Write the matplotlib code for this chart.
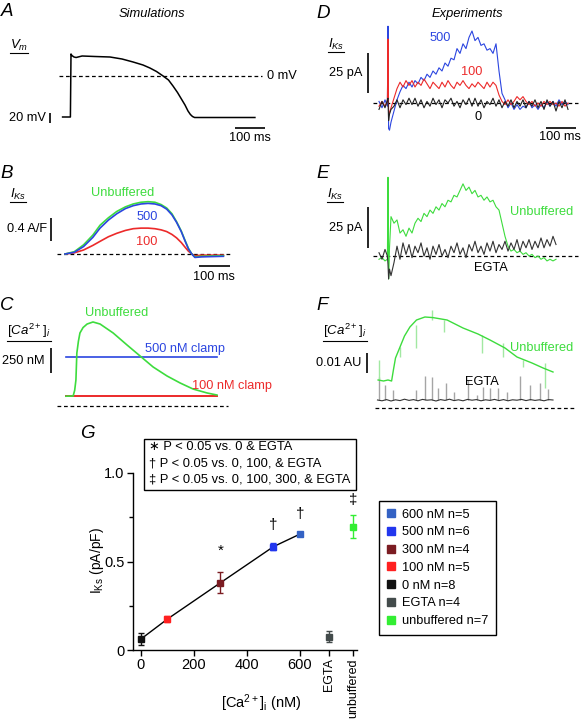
import matplotlib
matplotlib.use('Agg')
import matplotlib.pyplot as plt
from matplotlib.lines import Line2D
from matplotlib.patches import Rectangle

plt.rcParams['font.family'] = ['Liberation Sans', 'DejaVu Sans']
plt.rcParams['mathtext.fontset'] = 'custom'
plt.rcParams['mathtext.rm'] = 'Liberation Sans'
plt.rcParams['mathtext.it'] = 'Liberation Sans:italic'
plt.rcParams['mathtext.bf'] = 'Liberation Sans:bold'

# ---------------- data ----------------
# A: simulated action potential (ms, mV)
t_ap = [-28, -2, 0, 3, 10, 17, 37, 80, 130, 170, 207, 240, 263, 285, 307, 325,
        340, 355, 370, 380, 390, 398, 405, 412, 430, 613]
vm_ap = [-82, -82, 44, 41, 38, 37, 40, 39, 38, 34, 28, 22, 16, 9, 0, -8,
         -20, -33, -48, -58, -70, -77, -81, -83, -83, -83]

# B: simulated IKs (A/F)
t_b = [0, 30, 60, 90, 113, 140, 167, 195, 220, 245, 268, 290, 310, 328, 345,
       360, 375, 387, 398, 409, 419, 440, 511]
iks_unbuf = [0, 0.04, 0.16, 0.33, 0.50, 0.63, 0.74, 0.82, 0.87, 0.90, 0.91, 0.90,
             0.86, 0.80, 0.70, 0.56, 0.40, 0.24, 0.10, 0.0, -0.05, -0.04, -0.03]
iks_500 = [0, 0.03, 0.13, 0.29, 0.45, 0.59, 0.70, 0.79, 0.84, 0.87, 0.88, 0.87,
           0.84, 0.78, 0.68, 0.55, 0.39, 0.23, 0.09, 0.0, -0.06, -0.05, -0.04]
iks_100 = [0, 0.02, 0.07, 0.15, 0.22, 0.30, 0.36, 0.41, 0.44, 0.45, 0.45, 0.44,
           0.42, 0.39, 0.34, 0.28, 0.20, 0.12, 0.05, 0.0, -0.03, -0.02, -0.02]

# C: simulated [Ca2+]i (nM)
t_c = [0, 23, 28, 32, 35, 40, 45, 55, 68, 87, 110, 152, 197, 239, 281, 326,
       368, 410, 455, 487]
ca_unbuf = [100, 102, 160, 265, 540, 660, 745, 800, 836, 857, 836, 745, 622,
            510, 398, 306, 235, 173, 133, 112]
t_clamp = [0, 487]
ca_clamp500 = [500, 500]
ca_clamp100 = [100, 100]

# D: measured IKs (pA)
t_d = [-30, -20, -10, -2, 0, 2, 5] + list(range(10, 610, 10))
ik_d500 = [1, -3, 2, -2, 48, -16, -17,
           -12, -5, 2, 7, 11, 9, 13, 10, 14, 12, 16, 14, 18, 16, 20, 18, 22, 20,
           25, 23, 28, 27, 34, 31, 37, 34, 41, 45, 39, 41, 36, 37, 33, 34, 31,
           37, 20, 6, 2, -3, 0, -4, -1, -4, -2, -3, 1, -3, -1, -4, -1, -3, 1,
           -2, 1, -2, 2, -1, 1, -1]
ik_d100 = [-2, 1, -2, 1, 40, -8, -6,
           -3, 3, 9, 13, 10, 14, 11, 14, 10, 13, 11, 15, 12, 9, 13, 11, 9, 13,
           10, 14, 11, 9, 13, 11, 14, 11, 9, 12, 10, 13, 11, 9, 13, 10, 13, 11,
           5, 1, -1, 2, -1, 1, 4, 2, 4, 1, -1, 1, -2, 0, -2, 1, -1, 1,
           -1, 0, -2, 1, -2, 0]
ik_d0 = [-4, 1, -3, 2, 3, -11, -7,
         -4, -2, 2, -3, 2, -1, 3, -1, 3, -2, 2, -3, 1, -2, 3, -1, 2, -3,
         2, 0, 3, -2, 1, -3, 2, -1, 3, -2, 3, -2, 2, -3, 1, -1, 3, -2,
         2, -3, 1, -2, 2, -3, 1, -2, 2, -3, 1, -2, 2, -3, 1, -4, 2, -2,
         1, -5, 1, -3, 2, -4]

# E: measured IKs (pA)
t_e = [-30, -20, -10, -2, 0, 2, 5] + list(range(10, 570, 10))
ik_e_unbuf = [-2, -1, -3, -2, 48, -14, 5,
              24, 20, 22, 14, 16, 12, 17, 14, 20, 23, 21, 26, 24, 28, 26, 30, 28,
              32, 30, 34, 33, 37, 36, 40, 44, 40, 42, 38, 40, 36, 37, 34, 36, 33,
              34, 30, 28, 20, 12, 6, 3, 4, 2, 3, 1, 2, 0, 1, -1, 0, -2, -1, -3,
              -2, -3, -2]
ik_e_egta = [2, -2, 4, 0, -5, -14, -8,
             -12, -4, 6, -2, 8, 1, 7, -1, 6, 2, 8, 0, 5, -2, 6, 1, 7, 0,
             4, -1, 6, 2, 8, 1, 5, -1, 7, 3, 9, 2, 6, 1, 8, 3, 9, 2,
             7, 4, 9, 3, 8, 4, 10, 3, 9, 5, 10, 4, 9, 5, 11, 5, 10, 6,
             12, 7]

# F: measured [Ca2+]i (AU)
t_f = [-33, -15, 0, 12, 18, 25, 40, 55, 73, 95, 123, 150, 197, 250, 300, 340,
       390, 430, 480, 517, 550]
ca_f_unbuf = [0.014, 0.0135, 0.014, 0.0135, 0.019, 0.025, 0.0305, 0.036, 0.0405,
              0.044, 0.0455, 0.0452, 0.044, 0.040, 0.037, 0.034, 0.030, 0.0255,
              0.0225, 0.020, 0.018]
ub_spk_t = [-29, 40, 93, 146, 187, 312, 384, 451, 523]
ub_spk_lo = [0.014, 0.0257, 0.030, 0.044, 0.038, 0.0275, 0.0257, 0.0205, 0.010]
ub_spk_hi = [0.024, 0.0307, 0.0415, 0.049, 0.044, 0.0365, 0.0325, 0.024, 0.0225]
t_f_egta = [-35, -20, -5, 10, 25, 40, 55, 70, 85, 100, 115, 130, 145, 160, 175,
            190, 205, 220, 235, 250, 265, 280, 295, 310, 325, 340, 355, 370, 385,
            400, 415, 430, 445, 460, 475, 490, 505, 520, 535, 550]
ca_f_egta = [0.0040, 0.0036, 0.0042, 0.0035, 0.0041, 0.0037, 0.0044, 0.0038,
             0.0042, 0.0036, 0.0043, 0.0039, 0.0041, 0.0035, 0.0042, 0.0038,
             0.0044, 0.0037, 0.0041, 0.0036, 0.0043, 0.0039, 0.0042, 0.0036,
             0.0041, 0.0038, 0.0043, 0.0037, 0.0042, 0.0036, 0.0041, 0.0039,
             0.0043, 0.0037, 0.0042, 0.0038, 0.0041, 0.0036, 0.0042, 0.0040]
egta_spk_t = [-30, -10, 17, 93, 123, 147, 167, 193, 220, 267, 297, 317, 340, 367,
              397, 440, 473, 507, 533]
egta_spk_v = [0.0155, 0.0115, 0.009, 0.009, 0.016, 0.0155, 0.010, 0.0125, 0.008,
              0.014, 0.0065, 0.0105, 0.010, 0.010, 0.008, 0.016, 0.0115, 0.0125,
              0.0095]

# G: summary IKs vs [Ca2+]i
conc = [0, 100, 300, 500, 600]
iks_mean = [0.062, 0.175, 0.38, 0.584, 0.655]
iks_sem = [0.033, 0.015, 0.06, 0.02, 0.012]
conc_colors = ['#111111', '#ff2020', '#7b1c22', '#2236ee', '#3462c4']
egta_x, egta_mean, egta_sem = 710, 0.075, 0.03
unbuf_x, unbuf_mean, unbuf_sem = 800, 0.697, 0.064
x_ticks = [0, 200, 400, 600, 710, 800]
x_ticklabels = ['0', '200', '400', '600', 'EGTA', 'unbuffered']
leg_labels = ['600 nM n=5', '500 nM n=6', '300 nM n=4', '100 nM n=5',
              '0 nM n=8', 'EGTA n=4', 'unbuffered n=7']
leg_colors = ['#3462c4', '#2236ee', '#7b1c22', '#ff2020', '#111111',
              '#434b4b', '#33ee33']
stat_lines = ['\u2217 P < 0.05 vs. 0 & EGTA',
              '\u2020 P < 0.05 vs. 0, 100, & EGTA',
              '\u2021 P < 0.05 vs. 0, 100, 300, & EGTA']

GREEN = '#3ddc3d'
BLUE = '#2b45e0'
RED = '#ec2a2a'
LGREEN = '#a2e8a2'
GRAY = '#a5a5a5'

W, H = 582, 720
fig = plt.figure(figsize=(W / 100, H / 100), dpi=100)


def panel(box, x0, sx, y0, sy):
    # box = pixel (left, top, right, bottom); x0/y0 pixel of t=0 / value 0
    l, t, r, b = box
    ax = fig.add_axes([l / W, 1 - b / H, (r - l) / W, (b - t) / H])
    ax.set_xlim((l - x0) / sx, (r - x0) / sx)
    ax.set_ylim((y0 - b) / sy, (y0 - t) / sy)
    ax.axis('off')
    return ax


def pix(ax, px, py):
    return ax.transData.inverted().transform((px, H - py))


def vbar(ax, px, py, length):
    x, y = pix(ax, px, py)
    ax.plot([x, x], [y, y + length], color='k', lw=1.2, solid_capstyle='butt',
            clip_on=False)


def hbar(ax, px, py, length):
    x, y = pix(ax, px, py)
    ax.plot([x, x + length], [y, y], color='k', lw=1.2, solid_capstyle='butt',
            clip_on=False)


def zero(ax, pl, pr):
    xl = pix(ax, pl, 0)[0]
    xr = pix(ax, pr, 0)[0]
    ax.plot([xl, xr], [0, 0], color='k', lw=0.9, ls=(0, (3, 2.2)))


# A
axA = panel((40, 30, 300, 145), 71, 0.3, 76, 0.5)
zero(axA, 59, 262)
axA.plot(t_ap, vm_ap, color='k', lw=1.1)
vbar(axA, 50, 123, 20)
hbar(axA, 235, 128, 100)

# B
axB = panel((40, 180, 300, 285), 65, 0.31, 254, 57.5)
zero(axB, 57, 230)
axB.plot(t_b, iks_100, color=RED, lw=1.2)
axB.plot(t_b, iks_unbuf, color=GREEN, lw=1.2)
axB.plot(t_b, iks_500, color=BLUE, lw=1.2)
vbar(axB, 51, 241, 0.4)
hbar(axB, 199, 266, 100)

# C
axC = panel((40, 300, 300, 415), 66, 0.31, 406, 1 / 10.2)
zero(axC, 57, 228)
axC.plot(t_clamp, ca_clamp500, color=BLUE, lw=1.2)
axC.plot(t_clamp, ca_clamp100, color=RED, lw=1.4)
axC.plot(t_c, ca_unbuf, color=GREEN, lw=1.2)
vbar(axC, 51, 373, 250)

# D
axD = panel((320, 20, 582, 145), 388, 0.3, 103, 1.6)
zero(axD, 373, 578)
axD.plot(t_d, ik_d500, color=BLUE, lw=0.8)
axD.plot(t_d, ik_d100, color=RED, lw=0.8)
axD.plot(t_d, ik_d0, color='#222222', lw=0.8)
vbar(axD, 368, 93, 25)
hbar(axD, 546, 128, 100)

# E
axE = panel((320, 165, 582, 290), 388, 0.3, 256, 1.64)
zero(axE, 373, 578)
axE.plot(t_e, ik_e_unbuf, color=GREEN, lw=0.8)
axE.plot(t_e, ik_e_egta, color='#333333', lw=0.8)
vbar(axE, 368, 248, 25)

# F
axF = panel((320, 300, 582, 415), 388, 0.3, 408, 2000)
zero(axF, 375, 575)
axF.vlines(egta_spk_t, 0.0038, egta_spk_v, color=GRAY, lw=1)
axF.plot(t_f_egta, ca_f_egta, color='#333333', lw=0.8)
axF.vlines(ub_spk_t, ub_spk_lo, ub_spk_hi, color=LGREEN, lw=1)
axF.plot(t_f, ca_f_unbuf, color=GREEN, lw=1.0)
vbar(axF, 367, 373, 0.01)

# G
axG = fig.add_axes([133 / W, 1 - 650 / H, (357 - 133) / W, (650 - 473) / H])
axG.set_xlim(-30, 815)
axG.set_ylim(0, 1.0)
axG.plot(conc, iks_mean, color='k', lw=1, zorder=2)
for x, m, s, c in zip(conc, iks_mean, iks_sem, conc_colors):
    axG.errorbar(x, m, yerr=s, fmt='s', color=c, ms=5, capsize=2,
                 elinewidth=1, capthick=1, zorder=3, clip_on=False)
axG.errorbar(egta_x, egta_mean, yerr=egta_sem, fmt='s', color=leg_colors[5],
             ms=5, capsize=2, elinewidth=1, capthick=1, clip_on=False)
axG.errorbar(unbuf_x, unbuf_mean, yerr=unbuf_sem, fmt='s', color=leg_colors[6],
             ms=5, capsize=2, elinewidth=1, capthick=1, clip_on=False)

sig = [(conc[2], iks_mean[2] + iks_sem[2], '*', 10),
       (conc[3], iks_mean[3] + iks_sem[3], '\u2020', 8),
       (conc[4], iks_mean[4] + iks_sem[4], '\u2020', 8),
       (unbuf_x, unbuf_mean + unbuf_sem, '\u2021', 6)]
for x, y, s, off in sig:
    axG.annotate(s, (x, y), xytext=(0, off), textcoords='offset points',
                 ha='center', va='bottom', fontsize=11, annotation_clip=False)

for side in ['top', 'right']:
    axG.spines[side].set_visible(False)
for side in ['left', 'bottom']:
    axG.spines[side].set_linewidth(1)
axG.set_yticks([0, 0.5, 1.0])
axG.set_yticklabels(['0', '0.5', '1.0'])
axG.set_yticks([0.25, 0.75], minor=True)
axG.set_xticks(x_ticks)
axG.set_xticklabels(x_ticklabels)
axG.tick_params(direction='out', length=4, width=1, labelsize=10.5, pad=2)
axG.tick_params(which='minor', direction='out', length=3, width=1)
for lab in axG.get_xticklabels()[-2:]:
    lab.set_rotation(90)
    lab.set_fontsize(9)
axG.set_xlabel(r'$[\mathrm{Ca}^{2+}]_\mathrm{i}$ (nM)', fontsize=10.5)
axG.xaxis.label.set_va('center')
axG.xaxis.set_label_coords((261 - 133) / 224, (650 - 703) / 177)
axG.set_ylabel(r'$\mathrm{I_{Ks}}$ (pA/pF)', fontsize=10)
axG.yaxis.label.set_va('center')
axG.yaxis.set_label_coords((97 - 133) / 224, (650 - 560) / 177)

handles = [Line2D([], [], marker='s', ls='none', color=c, ms=6) for c in leg_colors]
leg = axG.legend(handles, leg_labels, loc='upper left',
                 bbox_to_anchor=(379 / W, 1 - 501 / H), bbox_transform=fig.transFigure,
                 fancybox=False, edgecolor='black', framealpha=1, fontsize=9.2,
                 handlelength=0.7, handletextpad=0.5, labelspacing=0.45,
                 borderpad=0.6, borderaxespad=0)
leg.get_frame().set_linewidth(1)

# ---------------- text overlay (pixel coordinates) ----------------
ov = fig.add_axes([0, 0, 1, 1])
ov.set_xlim(0, W)
ov.set_ylim(H, 0)
ov.axis('off')


def txt(x, y, s, size=9.2, color='k', ha='center', **kw):
    return ov.text(x, y, s, fontsize=size, color=color, ha=ha, va='center', **kw)


def ul_label(x, y, s):
    t = txt(x, y, s, size=9.5)
    fig.canvas.draw()
    bb = t.get_window_extent()
    yb = H - bb.y0 + 0.5
    ov.plot([bb.x0, bb.x1], [yb, yb], color='k', lw=0.8)


for lab, x, y in [('A', 7, 12), ('B', 7, 173), ('C', 7, 305), ('D', 323, 13),
                  ('E', 323, 173), ('F', 322, 305), ('G', 87, 433)]:
    txt(x, y, lab, size=13.5, style='italic')
txt(152, 14, 'Simulations', style='italic', size=9.3)
txt(467, 14, 'Experiments', style='italic', size=9.3)

ul_label(19, 45, r'$V_m$')
ul_label(18, 194, r'$I_{Ks}$')
ul_label(29, 331, r'$\mathit{[Ca^{2+}]_i}$')
ul_label(336, 44, r'$I_{Ks}$')
ul_label(335, 194, r'$I_{Ks}$')
ul_label(345, 331, r'$\mathit{[Ca^{2+}]_i}$')

txt(46, 118, '20 mV', ha='right')
txt(267, 76, '0 mV', ha='left')
txt(250, 138, '100 ms')
txt(47, 229, '0.4 A/F', ha='right')
txt(214, 277, '100 ms')
txt(44, 361, '250 nM', ha='right')
txt(362, 73, '25 pA', ha='right')
txt(560, 137, '100 ms')
txt(362, 228, '25 pA', ha='right')
txt(361, 363, '0.01 AU', ha='right')

txt(123, 193, 'Unbuffered', color=GREEN)
txt(147, 217, '500', color=BLUE)
txt(147, 242, '100', color=RED)
txt(117, 313, 'Unbuffered', color=GREEN)
txt(185, 349, '500 nM clamp', color=BLUE)
txt(232, 386, '100 nM clamp', color=RED)
txt(440, 38, '500', color=BLUE)
txt(472, 72, '100', color=RED)
txt(478, 117, '0')
txt(542, 212, 'Unbuffered', color=GREEN)
txt(491, 268, 'EGTA')
txt(542, 348, 'Unbuffered', color=GREEN)
txt(482, 382, 'EGTA')

ov.add_patch(Rectangle((144, 439), 212, 51, fill=True, facecolor='white',
                       edgecolor='black', lw=1))
for i, line in enumerate(stat_lines):
    txt(149, 447 + 16 * i, line, size=9.3, ha='left')

fig.savefig('out.png', dpi=100)
